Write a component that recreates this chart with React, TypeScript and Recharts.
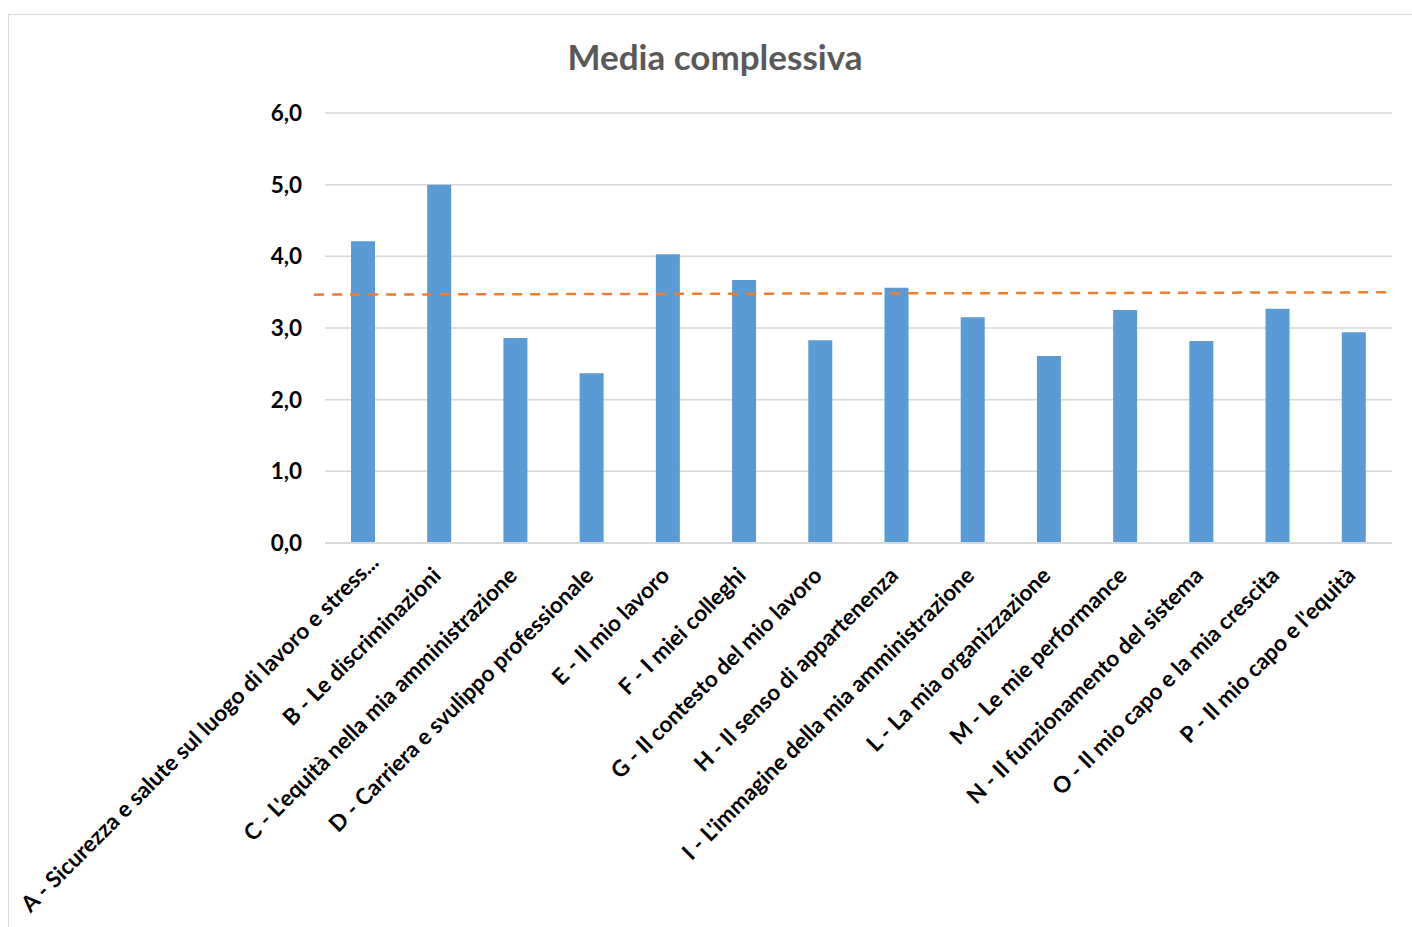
import { ComposedChart, Bar, XAxis, YAxis, CartesianGrid, ReferenceLine } from 'recharts';

const categories = [
  'A - Sicurezza e salute sul luogo di lavoro e stress...',
  'B - Le discriminazioni',
  "C - L'equità nella mia amministrazione",
  'D - Carriera e svulippo professionale',
  'E - Il mio lavoro',
  'F - I miei colleghi',
  'G - Il contesto del mio lavoro',
  'H - Il senso di appartenenza',
  "I - L'immagine della mia amministrazione",
  'L - La mia organizzazione',
  'M - Le mie performance',
  'N - Il funzionamento del sistema',
  'O - Il mio capo e la mia crescita',
  "P - Il mio capo e l'equità",
];

const media = [4.21, 5.0, 2.86, 2.37, 4.03, 3.67, 2.83, 3.56, 3.15, 2.61, 3.25, 2.82, 3.27, 2.94];

// trend line value at the first and last category
const trendY = [3.467, 3.497];

const yTicks = [0, 1, 2, 3, 4, 5, 6];

const data = categories.map((name, i) => ({ name, media: media[i] }));

const FONT = 'Lato, "Open Sans", sans-serif';
const LABEL_SIZE = 22.5;

const CategoryTick = (props: any) => {
  const { x, y, payload, index } = props;
  // first label is truncated by excel and sits a bit differently
  const dx = index === 0 ? 17 : 3;
  const dy = index === 0 ? 21 : 34;
  return (
    <g transform={`translate(${x + dx},${y + dy}) rotate(-45)`}>
      <text x={0} y={0} textAnchor="end" fontFamily={FONT} fontWeight={700} fontSize={LABEL_SIZE} fill="#000">
        {payload.value}
      </text>
    </g>
  );
};

// the excel trend line runs a little past the first and last bar
const TrendShape = (props: any) => {
  const { x1, y1, x2, y2 } = props;
  const at = (t: number) => [x1 + (x2 - x1) * t, y1 + (y2 - y1) * t];
  const [ax, ay] = at(-0.0494);
  const [bx, by] = at(1.0363);
  return (
    <line x1={ax} y1={ay} x2={bx} y2={by} stroke="#ED7D31" strokeWidth={2.5} strokeDasharray="10 8" />
  );
};

export default function App() {
  return (
    <div
      style={{
        position: 'absolute',
        left: 8,
        top: 14,
        width: 1403,
        height: 912,
        borderTop: '1px solid #d9d9d9',
        borderLeft: '1px solid #d9d9d9',
        background: '#fff',
      }}
    >
      <div
        style={{
          position: 'absolute',
          left: 0,
          width: 1412,
          top: 20,
          textAlign: 'center',
          fontFamily: FONT,
          fontWeight: 700,
          fontSize: 35,
          color: '#595959',
        }}
      >
        Media complessiva
      </div>
      <ComposedChart width={1403} height={904} data={data} margin={{ top: 98, right: 20, bottom: 0, left: 0 }}>
        <CartesianGrid vertical={false} stroke="#d9d9d9" strokeWidth={1.5} />
        <XAxis
          dataKey="name"
          interval={0}
          height={376}
          tickLine={false}
          tickSize={0}
          tickMargin={0}
          axisLine={{ stroke: '#d9d9d9', strokeWidth: 2 }}
          tick={<CategoryTick />}
        />
        <YAxis
          width={316}
          domain={[0, 6]}
          ticks={yTicks}
          axisLine={false}
          tickLine={false}
          tickSize={0}
          tickMargin={23}
          tickFormatter={(v: number) => v.toFixed(1).replace('.', ',')}
          tick={{ fontFamily: FONT, fontWeight: 700, fontSize: LABEL_SIZE, fill: '#000' }}
        />
        <Bar dataKey="media" fill="#5B9BD5" barSize={24} isAnimationActive={false} />
        <ReferenceLine
          segment={[
            { x: categories[0], y: trendY[0] },
            { x: categories[categories.length - 1], y: trendY[1] },
          ]}
          ifOverflow="visible"
          shape={<TrendShape />}
        />
      </ComposedChart>
    </div>
  );
}
